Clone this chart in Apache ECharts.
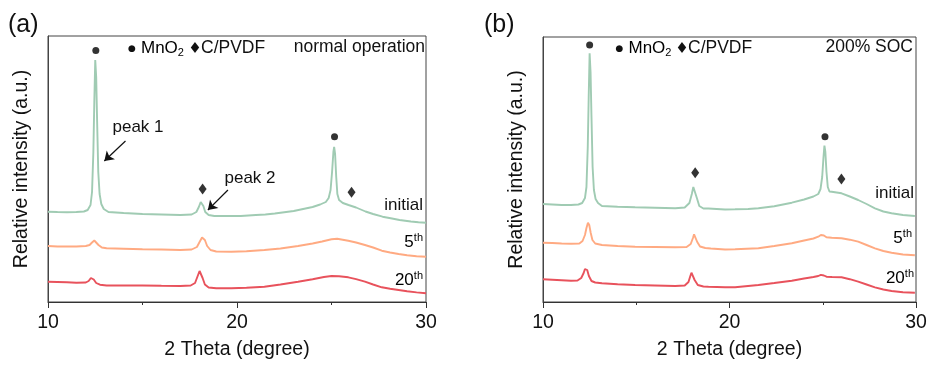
<!DOCTYPE html>
<html><head><meta charset="utf-8">
<script src="https://cdn.jsdelivr.net/npm/echarts/dist/echarts.min.js"></script>
<style>html,body{margin:0;padding:0;background:#fff}#c{width:931px;height:365px}</style>
</head><body><div id="c"></div>
<script>
// ---- Data (2θ in degree, relative intensity in a.u. incl. vertical offset) ----
const aInitial = [[10,90.3],[10.5,90],[11,89.8],[11.5,90],[11.9,90.5],[12.1,92],[12.25,97],[12.33,110],[12.4,150],[12.45,200],[12.5,242],[12.55,225],[12.6,180],[12.66,130],[12.73,108],[12.82,98],[12.95,93],[13.2,90],[14,89],[15,88],[16,87.5],[17,87],[17.6,87.5],[17.85,90],[17.98,95],[18.08,100],[18.14,100.5],[18.22,96],[18.32,90],[18.5,87],[18.8,86],[19.5,86],[20.2,86],[21,87],[21.5,87.5],[22,88.5],[23,91],[23.5,93],[24,95],[24.4,97.5],[24.7,100],[24.85,104],[24.95,112],[25.03,130],[25.1,150],[25.14,155],[25.19,148],[25.25,125],[25.31,108],[25.4,102],[25.6,99],[25.9,97],[26.3,94.5],[26.8,90.5],[27.2,88],[27.7,85.3],[28.2,83.5],[28.6,82],[29.2,80.5],[29.6,79.8],[30,79.3]];
const a5th = [[10,56],[10.5,55.5],[11,55.5],[11.5,55.5],[12,56],[12.2,57],[12.33,59.5],[12.45,61.5],[12.55,60.5],[12.67,57],[12.85,54.5],[13.1,53.8],[14,53.3],[15,52.8],[16,52.5],[17,52],[17.6,52.5],[17.88,55],[18.02,60],[18.15,64.5],[18.22,64.7],[18.3,62],[18.42,56],[18.6,52],[18.9,50.5],[19.7,50.3],[20.5,50.8],[21.45,52],[22.3,53.5],[23.23,56],[24,58.5],[24.5,60.5],[25,62.7],[25.3,63.3],[25.89,61.3],[26.3,59.5],[26.77,57],[27.2,54.5],[27.66,51.3],[28.1,49.5],[28.55,48],[29,46.8],[29.5,45.8],[30,45.3]];
const a20th = [[10,20.3],[10.5,20],[11,19.7],[11.5,19.3],[12,19.5],[12.15,21],[12.27,24],[12.33,24.7],[12.42,22.5],[12.55,19],[12.75,17.3],[13.1,16.5],[14,16.5],[15,16.5],[16,16.2],[17,16],[17.55,16.5],[17.78,19],[17.92,26],[18.02,31],[18.08,30],[18.18,24],[18.3,17.5],[18.5,14.5],[18.9,13.8],[19.7,13.7],[20.5,14.2],[21.45,15.3],[22.3,17.5],[23.23,20.3],[24,22.8],[24.6,25],[25,26],[25.4,25.8],[25.89,24.7],[26.3,22.8],[26.77,20.3],[27.2,17.5],[27.66,14.7],[28.1,13.2],[28.55,12],[29,10.8],[29.5,9.6],[30,8.7]];
const bInitial = [[10,98],[10.5,97.5],[11,97],[11.5,97],[11.9,97.5],[12.1,99],[12.25,104],[12.33,115],[12.4,155],[12.45,205],[12.5,248.7],[12.55,230],[12.6,185],[12.66,135],[12.73,112],[12.82,103],[12.95,99],[13.16,96],[14,95.3],[14.94,94.7],[16,94.2],[17.09,93.7],[17.6,94.5],[17.85,99],[17.98,108],[18.06,115],[18.1,117],[18.16,114],[18.25,104],[18.38,96],[18.6,93.5],[18.87,93.5],[19.76,92.5],[20.3,92.7],[21,93],[21.55,93.7],[22.4,95.8],[23.34,99.3],[24,102.5],[24.5,105.5],[24.76,108],[24.88,113],[24.97,125],[25.04,145],[25.09,156.3],[25.14,150],[25.2,130],[25.27,115],[25.36,110.5],[25.48,110.3],[26.01,108.7],[26.45,105.5],[26.9,102],[27.35,98],[27.8,93.7],[28.25,90.5],[28.69,88.7],[29.3,87],[29.94,86]];
const b5th = [[10,59.3],[10.5,59],[11,58.5],[11.5,58.3],[11.95,58.5],[12.12,61],[12.25,67],[12.33,74],[12.41,79.3],[12.48,77],[12.56,69],[12.65,62],[12.8,58.5],[13.16,57],[14,56],[14.94,55.3],[16,55],[17.09,54.7],[17.7,55],[17.92,58],[18.04,64],[18.1,67.7],[18.17,66],[18.27,60],[18.42,55.5],[18.7,54],[19,53.5],[19.76,52.5],[20.3,52.7],[21.55,53.7],[22.4,56],[23.34,58.7],[24,61.5],[24.5,63.5],[24.76,65.3],[24.9,67],[24.98,68],[25.06,66.5],[25.2,64.7],[25.48,64.2],[26.01,63.7],[26.45,62.3],[26.9,60.3],[27.35,57],[27.8,53.7],[28.25,51],[28.69,49.3],[29.3,47.5],[29.94,46.7]];
const b20th = [[10,22.7],[10.5,22.3],[11,21.8],[11.5,21.2],[11.85,21.5],[12.05,24],[12.18,29],[12.25,33],[12.3,34.3],[12.37,32],[12.46,26],[12.6,21],[12.8,19.5],[13.16,18.7],[14,17.8],[14.94,17],[16,16.5],[17.09,16],[17.6,16.5],[17.8,20],[17.9,26],[17.96,29.3],[18.03,28],[18.13,22],[18.3,17],[18.6,15.5],[18.87,15.3],[19.76,14.7],[20.3,14.7],[21.55,17],[22.4,19],[23.34,21.3],[24,23.5],[24.5,25],[24.76,26],[24.9,27.2],[24.98,27.7],[25.06,26.5],[25.2,25.3],[25.5,25],[26.01,24.7],[26.45,22.8],[26.9,20.3],[27.35,17.5],[27.8,14.7],[28.25,12.5],[28.69,11],[29.3,9.8],[29.94,9.3]];
// peak markers: MnO2 (dot) and C/PVDF (diamond)
const aMnO2Marks = [[12.53,251.5],[25.16,165.3]];
const aCPVDFMarks = [[18.18,113],[26.06,109.7]];
const bMnO2Marks = [[12.5,257],[25.12,165.3]];
const bCPVDFMarks = [[18.16,129.3],[26.0,123]];
// annotation arrows (start -> end) for panel a
const aArrows = [[[14.1,161],[12.98,141]],[[19.52,112],[18.46,92]]];
const xTickInterval = 10;
const panelTitles = ['(a)','(b)'];
const conditions = ['normal operation','200% SOC'];
const seriesNames = ['initial','5th','20th'];

const FONT = "'Liberation Sans', Arial, sans-serif";
const COLORS = ['#a0cbb3','#ffaa82','#e8525c'];
const chart = echarts.init(document.getElementById('c'), null, {renderer:'canvas'});

const grids = [
  {left:48, top:36, width:378, height:266, show:true, borderColor:'#444', borderWidth:1},
  {left:543, top:37, width:373, height:265, show:true, borderColor:'#444', borderWidth:1}
];
const yMax = [266, 265];
function xAxis(i){
  return {type:'value', gridIndex:i, min:10, max:30, interval:xTickInterval,
    axisLine:{lineStyle:{color:'#333',width:1}},
    axisTick:{length:6, lineStyle:{color:'#333'}},
    minorTick:{show:true, splitNumber:2, length:3, lineStyle:{color:'#333'}},
    splitLine:{show:false}, minorSplitLine:{show:false},
    axisLabel:{fontSize:19.5, color:'#111', margin:11, fontFamily:FONT},
    name:'2 Theta (degree)', nameLocation:'middle', nameGap:38,
    nameTextStyle:{fontSize:19.5, color:'#111', fontFamily:FONT}};
}
function yAxis(i){
  return {type:'value', gridIndex:i, min:0, max:yMax[i],
    axisLine:{show:true, lineStyle:{color:'#444'}}, axisTick:{show:false},
    axisLabel:{show:false}, splitLine:{show:false},
    name:'Relative intensity (a.u.)', nameLocation:'middle', nameGap:16,
    nameTextStyle:{fontSize:19.5, color:'#111', fontFamily:FONT}};
}
function lineSeries(i, data, c){
  return {type:'line', xAxisIndex:i, yAxisIndex:i, data, symbol:'none', showSymbol:false,
    lineStyle:{color:COLORS[c], width:1.9}, z:2};
}
function marks(i, data, sym){
  return {type:'scatter', xAxisIndex:i, yAxisIndex:i, data, symbol:sym,
    symbolSize: sym==='circle'?7:[8,11], itemStyle:{color:'#000'}, z:3};
}
const series = [
  lineSeries(0,aInitial,0), lineSeries(0,a5th,1), lineSeries(0,a20th,2),
  lineSeries(1,bInitial,0), lineSeries(1,b5th,1), lineSeries(1,b20th,2),
  marks(0,aMnO2Marks,'circle'), marks(0,aCPVDFMarks,'diamond'),
  marks(1,bMnO2Marks,'circle'), marks(1,bCPVDFMarks,'diamond'),
  {type:'line', xAxisIndex:0, yAxisIndex:0, data:[], symbol:'none', itemStyle:{color:'#111'},
    markLine:{silent:true, symbol:['none','arrow'], symbolSize:9, label:{show:false},
      itemStyle:{color:'#111'},
      lineStyle:{color:'#111', width:1.2, type:'solid'},
      data: aArrows.map(a=>[{coord:a[0]},{coord:a[1]}])}}
];

const rich = {
  m:{fontSize:17, color:'#111', fontFamily:FONT, lineHeight:20},
  sub:{fontSize:11, color:'#111', fontFamily:FONT, verticalAlign:'bottom', lineHeight:11},
  sup:{fontSize:11, color:'#111', fontFamily:FONT, verticalAlign:'top', lineHeight:11}
};
function txt(x, y, text, align, size, fam){
  return {type:'text', x, y, style:{text, fill:'#111', font:`${size||17}px ${fam||FONT}`, textAlign:align||'left', textVerticalAlign:'middle'}};
}
function rtxt(x, y, text, align){
  return {type:'text', x, y, style:{text, rich, textAlign:align||'left', textVerticalAlign:'middle'}};
}
const graphic = [
  txt(8, 25, panelTitles[0], 'left', 25),
  txt(484, 25, panelTitles[1], 'left', 25),
  // legend panel a
  txt(132, 49, '●', 'center', 9, 'DejaVu Sans'),
  rtxt(141, 48, '{m|MnO}{sub|2}'),
  txt(195, 49, '♦', 'center', 15, 'DejaVu Sans'),
  txt(201, 48, 'C/PVDF', 'left', 17.5),
  // legend panel b
  txt(619.5, 49, '●', 'center', 9, 'DejaVu Sans'),
  rtxt(628.5, 48, '{m|MnO}{sub|2}'),
  txt(682, 49, '♦', 'center', 15, 'DejaVu Sans'),
  txt(688, 48, 'C/PVDF', 'left', 17.5),
  txt(425, 47, conditions[0], 'right', 17.5),
  txt(913, 47, conditions[1], 'right', 17.5),
  txt(138, 127, 'peak 1', 'center', 17),
  txt(250, 178, 'peak 2', 'center', 17),
  txt(423, 205, seriesNames[0], 'right', 17),
  rtxt(423, 242, '{m|5}{sup|th}', 'right'),
  rtxt(423, 280, '{m|20}{sup|th}', 'right'),
  txt(914, 193, seriesNames[0], 'right', 17),
  rtxt(912, 238, '{m|5}{sup|th}', 'right'),
  rtxt(914, 278, '{m|20}{sup|th}', 'right')
];

chart.setOption({
  animation:false, backgroundColor:'#fff',
  grid:grids, xAxis:[xAxis(0),xAxis(1)], yAxis:[yAxis(0),yAxis(1)],
  series, graphic
});
</script></body></html>
